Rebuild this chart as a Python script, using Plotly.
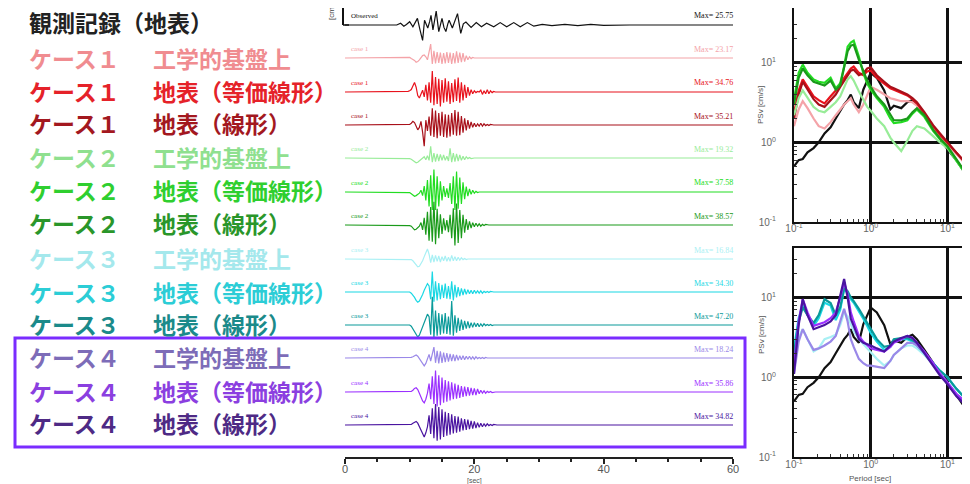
import plotly.graph_objects as go

W, H = 970, 484
PAGE_OFFSET = 8  # default body margin of the written html page

# ---------------- data ----------------
row_case = ["", "ケース１", "ケース１", "ケース１", "ケース２", "ケース２", "ケース２",
            "ケース３", "ケース３", "ケース３", "ケース４", "ケース４", "ケース４"]
row_desc = ["観測記録（地表）", "工学的基盤上", "地表（等価線形）", "地表（線形）",
            "工学的基盤上", "地表（等価線形）", "地表（線形）",
            "工学的基盤上", "地表（等価線形）", "地表（線形）",
            "工学的基盤上", "地表（等価線形）", "地表（線形）"]
trace_tags = ["Observed", "case 1", "case 1", "case 1", "case 2", "case 2", "case 2",
              "case 3", "case 3", "case 3", "case 4", "case 4", "case 4"]
max_text = ["Max= 25.75", "Max= 23.17", "Max= 34.76", "Max= 35.21", "Max= 19.32",
            "Max= 37.58", "Max= 38.57", "Max= 16.84", "Max= 34.30", "Max= 47.20",
            "Max= 18.24", "Max= 35.86", "Max= 34.82"]

# observed acceleration record (cm/s2), irregular sampling
obs_t = [0, 8.0, 8.6, 9.1, 9.5, 10.0, 10.5, 10.9, 11.2, 11.6, 12.0, 12.3, 12.6, 12.8,
         13.1, 13.3, 13.6, 13.9, 14.1, 14.5, 14.8, 15.0, 15.3, 15.6, 15.9, 16.1, 16.6,
         17.0, 17.4, 17.9, 18.3, 18.7, 19.5, 20.3, 21.1, 21.9, 23.0, 24.0, 25.0, 26.1,
         27.1, 28.2, 29.2, 30.5, 32, 34, 36, 38, 40, 44, 48, 52, 56, 60]
obs_v = [0, 0, 3, -2, 1, 5.5, -3, 4, 11, -8, -25.75, 8, -2, -5, 6, 16, -8, 10, 23,
         -11, 3, 11, -4, -11, 2, 8, -5, 6, 19, -14, 2, 5, -4, 4, -3, 3, -3, 4, -3, 4,
         -3, 4, -2, 1, -1, 1, -1, 1, -0.5, 0, 0.5, 0, 0, 0]

# simulated records, sampled every 0.25 s between 9 and 24 s (flat elsewhere)
wave_t = [9.0, 9.25, 9.5, 9.75, 10.0, 10.25, 10.5, 10.75, 11.0, 11.25, 11.5, 11.75,
          12.0, 12.25, 12.5, 12.75, 13.0, 13.25, 13.5, 13.75, 14.0, 14.25, 14.5, 14.75,
          15.0, 15.25, 15.5, 15.75, 16.0, 16.25, 16.5, 16.75, 17.0, 17.25, 17.5, 17.75,
          18.0, 18.25, 18.5, 18.75, 19.0, 19.25, 19.5, 19.75, 20.0, 20.25, 20.5, 20.75,
          21.0, 21.25, 21.5, 21.75, 22.0, 22.25, 22.5, 22.75, 23.0, 23.25, 23.5, 23.75,
          24.0]
c1_base = [0, 0, 0, 0, 1, -1, -2, -4, -7, -6, -3, 1, 4, 5, 2, -3,
           8, 23.17, -10, 12, -9, 10, -8, 9, -10, 8, -9, 10, -8, 9, -10, 8,
           -9, 11, -8, 9, -7, 8, -6, 4, -3, 2, -1, 1, 0, 0, 0, 0,
           0, 0, 0, 0, 0, 0, 0, 0, 0, 0, 0, 0, 0]
c1_eq = [0, 0, 0, 1, 2, 4, 10, 16, 8, -6, -10, -4, 3, -8, 12, -14,
         16, -18, 34.76, -22, 25, -20, 22, -24, 20, -18, 23, -16, 18, -20, 15, -17,
         21, -15, 24, -18, 16, -14, 12, -10, 8, -6, 4, -3, 2, -1, 1, 0,
         3, -4, 2, -3, 4, -3, 2, -1, 1, 0, 0, 0, 0]
c1_lin = [0, 0, 0, 0, 1, 3, 6, 4, -3, -8, -4, 6, -12, -35.21, 8, -10,
          14, -18, 28, -20, 24, -22, 20, -18, 22, -20, 18, -21, 17, -19, 20, -16,
          25, -18, 22, -17, 15, -13, 11, -9, 8, -6, 5, -4, 3, -3, 2, -2,
          3, -2, 2, -1, 1, -1, 1, 0, 0, 0, 0, 0, 0]
c2_base = [0, 0, 0, 0, -1, -2, -4, -6, -8, -7, -5, -3, -1, 2, -3, 4,
           -4, 19.32, -7, 8, -6, 7, -5, 6, -4, 5, -4, 3, -5, 16, -7, 8,
           -6, 7, -5, 5, -4, 3, -3, 2, -1, 1, -1, 0, 0, 0, 0, 0,
           0, 0, 0, 0, 0, 0, 0, 0, 0, 0, 0, 0, 0]
c2_eq = [0, 0, 0, 0, -1, -3, -5, -7, -6, -4, -2, 3, -6, 10, -14, 20,
         -24, 28, -30, 37.58, -30, 26, -24, 18, -14, 10, -8, 6, -10, 15, -20, 26,
         -30, 34, -28, 24, -20, 16, -12, 9, -7, 5, -4, 3, -2, 1, -1, 0,
         0, 0, 0, 0, 0, 0, 0, 0, 0, 0, 0, 0, 0]
c2_lin = [0, 0, 0, 0, -1, -2, -5, -8, -7, -5, -2, 4, -8, 12, -16, 22,
          -26, 30, -28, 38.57, -32, 27, -22, 18, -15, 11, -9, 8, -12, 17, -22, 28,
          -34, 36, -30, 25, -22, 17, -13, 10, -8, 6, -5, 4, -3, 3, -2, 2,
          -2, 1, -1, 1, 0, 0, 0, 0, 0, 0, 0, 0, 0]
c3_base = [0, 0, 0, 0, 0, -1, -3, -6, -10, -13, -12, -8, -3, 4, 10, 16.84,
           8, -6, 7, -5, 6, -4, 5, -5, 4, -3, 5, -4, 3, -4, 6, -3,
           4, -3, 3, -2, 2, -1, 1, -1, 0, 0, 0, 0, 0, 0, 0, 0,
           0, 0, 0, 0, 0, 0, 0, 0, 0, 0, 0, 0, 0]
c3_eq = [0, 0, 0, 0, 0, -2, -5, -9, -14, -17, -15, -10, -4, 3, 8, 14,
         10, -12, 34.30, -16, 18, -14, 15, -12, 12, -10, 14, -11, 10, -12, 18, -14,
         12, -9, 8, -7, 6, -5, 5, -4, 4, -3, 3, -3, 3, -2, 2, -2,
         2, -2, 1, -1, 1, -1, 1, 0, 0, 0, 0, 0, 0]
c3_lin = [0, 0, 0, 0, 0, -2, -6, -10, -16, -20, -17, -10, -4, 6, 12, 18,
          14, -16, 47.20, -22, 24, -18, 20, -16, 18, -14, 20, -15, 14, -16, 40, -18,
          16, -13, 12, -10, 9, -8, 7, -6, 6, -5, 4, -4, 4, -3, 3, -3,
          2, -2, 2, -1, 1, -1, 1, -1, 0, 0, 0, 0, 0]
c4_base = [0, 0, 0, 0, 0, 1, 2, 4, 5, 3, -1, -6, -10, -13, -9, -3,
           6, -5, 10, 18.24, -8, 12, -9, 11, -8, 9, -7, 8, -6, 7, -5, 6,
           -5, 5, -4, 4, -3, 4, -3, 3, -2, 3, -2, 2, -2, 2, -1, 1,
           -1, 1, -1, 1, 0, 0, 0, 0, 0, 0, 0, 0, 0]
c4_eq = [0, 0, 0, 0, 0, 1, 3, 6, 7, 4, -2, -9, -15, -18, -12, -2,
         14, -12, 26, -20, 35.86, -24, 28, -22, 24, -18, 20, -16, 18, -14, 16, -12,
         14, -11, 12, -10, 10, -8, 9, -7, 8, -6, 7, -5, 6, -5, 5, -3,
         3, -2, 2, -2, 1, -1, 1, -1, 0, 0, 0, 0, 0]
c4_lin = [0, 0, 0, 0, 0, 1, 3, 5, 6, 3, -3, -10, -16, -20, -13, -3,
          16, -15, 28, -22, 34.82, -26, 30, -24, 26, -20, 22, -18, 20, -16, 18, -14,
          15, -13, 14, -11, 11, -9, 10, -8, 9, -7, 7, -6, 6, -5, 4, -4,
          3, -3, 2, -2, 2, -1, 1, -1, 1, 0, 0, 0, 0]

# pseudo velocity response spectra PSv (cm/s) vs period (s)
period = [0.1, 0.115, 0.13, 0.15, 0.18, 0.21, 0.25, 0.3, 0.35, 0.4, 0.45, 0.5, 0.55,
          0.6, 0.7, 0.8, 0.9, 1.0, 1.2, 1.5, 1.8, 2.0, 2.5, 3.0, 3.5, 4.0, 5.0, 6.5,
          8.0, 10, 13, 16, 20]
psv_obs = [0.5, 0.6, 0.62, 0.75, 0.85, 1.0, 1.3, 1.55, 2.0, 2.5, 3.0, 3.4, 4.0, 3.2,
           2.7, 4.6, 6.0, 7.5, 6.5, 4.5, 2.6, 2.9, 2.7, 3.2, 3.4, 3.0, 2.2, 1.5, 1.1,
           0.82, 0.6, 0.45, 0.35]
psv_c1_base = [1.6, 2.6, 3.3, 2.7, 2.0, 1.6, 1.5, 1.8, 2.2, 2.6, 3.0, 3.3, 3.6, 3.0,
               2.4, 3.0, 4.0, 5.0, 4.6, 4.0, 3.6, 3.5, 3.3, 3.3, 3.2, 2.9, 2.2, 1.55,
               1.2, 0.95, 0.72, 0.58, 0.46]
psv_c1_eq = [2.3, 4.5, 6.2, 5.0, 3.8, 3.4, 3.1, 3.8, 4.5, 5.5, 6.5, 7.5, 8.5, 9.0,
             7.5, 7.0, 7.8, 8.0, 6.5, 5.5, 4.8, 4.6, 4.2, 3.9, 3.5, 3.1, 2.3, 1.6,
             1.25, 1.0, 0.75, 0.6, 0.48]
psv_c1_lin = [2.0, 4.0, 5.8, 4.6, 3.5, 3.0, 2.8, 3.4, 4.0, 5.0, 6.0, 7.0, 8.0, 8.2,
              7.0, 7.4, 8.5, 8.8, 7.0, 5.8, 5.0, 4.8, 4.3, 4.0, 3.6, 3.2, 2.4, 1.65,
              1.3, 1.0, 0.75, 0.6, 0.48]
psv_c2_base = [2.2, 3.6, 4.5, 3.6, 2.8, 2.5, 2.4, 2.8, 3.2, 3.8, 5.0, 6.2, 6.8, 6.0,
               4.4, 3.4, 2.8, 2.5, 2.0, 1.6, 1.15, 1.0, 0.78, 1.05, 1.4, 1.6, 1.5,
               1.2, 1.0, 0.85, 0.6, 0.45, 0.33]
psv_c2_eq = [3.4, 7.5, 9.5, 7.5, 6.2, 5.8, 5.6, 6.5, 4.8, 5.5, 9.0, 16, 18, 19, 12,
             7.5, 5.5, 4.6, 3.6, 2.8, 2.0, 1.75, 1.8, 1.9, 2.3, 2.6, 2.1, 1.4, 1.1,
             0.88, 0.6, 0.45, 0.33]
psv_c2_lin = [3.0, 6.5, 8.5, 7.0, 5.8, 5.5, 5.2, 6.0, 4.6, 5.2, 8.5, 14, 16.5, 17,
              11, 7.8, 6.0, 5.0, 3.8, 3.0, 2.2, 1.9, 1.9, 2.0, 2.4, 2.7, 2.2, 1.45,
              1.12, 0.9, 0.62, 0.46, 0.34]
psv_c3_base = [1.7, 3.2, 4.0, 3.0, 2.1, 2.3, 3.0, 3.2, 3.4, 4.5, 6.5, 5.8, 4.5, 3.8,
               3.0, 2.6, 2.3, 2.1, 1.7, 1.4, 1.6, 1.9, 2.3, 2.5, 2.5, 2.3, 1.9, 1.45,
               1.2, 1.0, 0.72, 0.58, 0.5]
psv_c3_eq = [2.3, 5.5, 7.9, 6.0, 4.4, 5.5, 8.6, 7.9, 5.2, 7.0, 12.7, 11.5, 9.5, 8.6,
             6.8, 5.4, 4.4, 3.6, 2.8, 2.2, 2.4, 2.9, 3.0, 3.0, 2.8, 2.5, 2.0, 1.5,
             1.2, 1.0, 0.72, 0.58, 0.5]
psv_c3_lin = [2.0, 5.0, 7.5, 6.0, 4.8, 6.0, 9.5, 8.5, 6.0, 7.5, 13, 12, 10, 9.0, 7.2,
              5.8, 4.7, 3.9, 3.0, 2.4, 2.5, 3.0, 3.1, 3.1, 2.9, 2.6, 2.05, 1.5, 1.2,
              1.0, 0.72, 0.58, 0.5]
psv_c4_base = [1.1, 2.8, 4.0, 3.0, 2.2, 2.3, 2.5, 2.8, 3.3, 5.0, 7.2, 5.0, 3.0, 2.4,
               1.7, 1.5, 1.4, 1.4, 1.35, 1.3, 1.6, 1.9, 2.3, 2.7, 2.7, 2.5, 2.0, 1.45,
               1.1, 0.86, 0.62, 0.52, 0.44]
psv_c4_eq = [1.4, 5.0, 9.5, 6.5, 4.4, 4.6, 4.9, 5.5, 6.5, 10, 15.4, 11, 6.5, 5.0, 3.3,
             2.8, 2.5, 2.3, 2.2, 2.1, 2.4, 2.7, 3.0, 3.3, 3.1, 2.7, 2.1, 1.5, 1.1,
             0.86, 0.62, 0.52, 0.44]
psv_c4_lin = [1.1, 4.5, 9.5, 6.0, 4.0, 4.2, 4.5, 5.0, 6.0, 10.5, 17, 10, 5.4, 4.4,
              3.0, 2.7, 2.6, 2.5, 2.3, 2.1, 2.5, 2.8, 3.1, 3.3, 3.1, 2.7, 2.0, 1.4,
              1.05, 0.82, 0.58, 0.48, 0.4]

# ---------------- styling ----------------
trace_colors = ["#111111", "#f4a3a8", "#e8121c", "#a8101a", "#98ec98", "#22dd22",
                "#1a9a1a", "#a8f0f4", "#1ad8e4", "#0a9a9a", "#9a88e8", "#9b30ff",
                "#4a14a0"]
label_colors = ["#222222", "#f08c90", "#e52229", "#a3181f", "#8fe08f", "#2fcf2f",
                "#2a962a", "#a4e8ec", "#2ccdd6", "#1b8a8a", "#7d6cb8", "#8b3fe0",
                "#4e2a85"]
baselines = [25, 58, 92, 125, 158, 192, 225, 259, 292, 325, 358, 392, 425]
label_y = [22, 58, 91, 123, 157, 190, 223, 258, 292, 324, 357, 391, 423]
LABEL_SHIFT = 0


def px(x):
    return (x - PAGE_OFFSET) / W


def py(y):
    return 1 - (y - PAGE_OFFSET) / H


waves = [None, c1_base, c1_eq, c1_lin, c2_base, c2_eq, c2_lin,
         c3_base, c3_eq, c3_lin, c4_base, c4_eq, c4_lin]

fig = go.Figure()
layout = {}
SCALE = 0.6   # px per cm/s2 on the record strips
BAND = 36     # px above / below baseline available to each strip

for i in range(13):
    yname = "y" if i == 0 else f"y{i + 1}"
    lkey = "yaxis" if i == 0 else f"yaxis{i + 1}"
    b = baselines[i]
    top_px = max(PAGE_OFFSET, b - BAND)
    bot_px = b + BAND
    layout[lkey] = dict(domain=[py(bot_px), py(top_px)],
                        range=[-(bot_px - b) / SCALE, (b - top_px) / SCALE],
                        visible=False, anchor="x", fixedrange=True,
                        automargin=False)
    if i == 0:
        xs, ys = obs_t, obs_v
    else:
        xs = [0.0] + wave_t + [60.0]
        ys = [0.0] + waves[i] + [0.0]
    fig.add_trace(go.Scatter(x=xs, y=ys, xaxis="x", yaxis=yname, mode="lines",
                             line=dict(color=trace_colors[i], width=1.2),
                             showlegend=False, hoverinfo="skip"))

layout["xaxis"] = dict(domain=[px(345), px(733)], range=[0, 60], anchor="free",
                       position=py(458), showline=True, linecolor="#222",
                       linewidth=2, showgrid=False, zeroline=False, automargin=False,
                       tickvals=[0, 20, 40, 60], ticks="outside", ticklen=5,
                       tickwidth=1.5, tickcolor="#222", ticklabelstandoff=-4,
                       minor=dict(dtick=5, ticks="outside", ticklen=3,
                                  tickcolor="#222", showgrid=False),
                       tickfont=dict(size=11, color="#555", family="Liberation Sans"))

# spectra
top_series = [(psv_obs, 0), (psv_c1_base, 1), (psv_c1_eq, 2), (psv_c1_lin, 3),
              (psv_c2_base, 4), (psv_c2_eq, 5), (psv_c2_lin, 6)]
bot_series = [(psv_obs, 0), (psv_c3_base, 7), (psv_c3_eq, 8), (psv_c3_lin, 9),
              (psv_c4_base, 10), (psv_c4_eq, 11), (psv_c4_lin, 12)]
for vals, ci in top_series:
    fig.add_trace(go.Scatter(x=period, y=vals, xaxis="x2", yaxis="y14", mode="lines",
                             line=dict(color=trace_colors[ci], width=2.2),
                             showlegend=False, hoverinfo="skip"))
for vals, ci in bot_series:
    fig.add_trace(go.Scatter(x=period, y=vals, xaxis="x3", yaxis="y15", mode="lines",
                             line=dict(color=trace_colors[ci], width=2.2),
                             showlegend=False, hoverinfo="skip"))

minor_vals = [0.2, 0.3, 0.4, 0.5, 0.6, 0.7, 0.8, 0.9, 2, 3, 4, 5, 6, 7, 8, 9, 20, 30]
log_ticktext = ["10<sup>-1</sup>", "10<sup>0</sup>", "10<sup>1</sup>"]
tfont = dict(size=10, color="#666", family="Liberation Sans")


def log_axis(domain, rng, anchor):
    return dict(type="log", domain=domain, range=rng, anchor=anchor,
                showline=True, linecolor="#111", linewidth=2, mirror=True,
                showgrid=True, gridcolor="#111", gridwidth=2.5, zeroline=False,
                automargin=False,
                tickvals=[0.1, 1, 10], ticktext=log_ticktext, ticks="inside",
                ticklen=5, tickcolor="#111", tickfont=tfont,
                minor=dict(tickvals=minor_vals, ticks="inside", ticklen=3,
                           tickcolor="#333", showgrid=False))


layout["xaxis2"] = log_axis([px(794), px(970)], [-1, 1.294], "y14")
layout["yaxis14"] = log_axis([py(222), py(8)], [-1, 1.69], "x2")
layout["xaxis3"] = log_axis([px(794), px(970)], [-1, 1.294], "y15")
layout["yaxis15"] = log_axis([py(457), py(248)], [-1, 1.62], "x3")
layout["yaxis14"]["ticklabelstandoff"] = 14
layout["yaxis15"]["ticklabelstandoff"] = 14
layout["xaxis2"]["ticklabelstandoff"] = -4
layout["xaxis3"]["ticklabelstandoff"] = -3

annotations = []
cjk = "Noto Sans CJK JP"


def left_label(text, x, y, color):
    return dict(text="<b>" + text + "</b>", x=px(x), y=py(y + LABEL_SHIFT),
                xref="paper", yref="paper", xanchor="left", yanchor="middle",
                align="left", showarrow=False, borderpad=0,
                font=dict(size=23, color=color, family=cjk))


for i in range(13):
    if i == 0:
        annotations.append(left_label(row_desc[0], 28, label_y[0], label_colors[0]))
    else:
        annotations.append(left_label(row_case[i], 28, label_y[i], label_colors[i]))
        annotations.append(left_label(row_desc[i], 152, label_y[i], label_colors[i]))
    b = baselines[i]
    annotations.append(dict(text=trace_tags[i], x=px(349), y=py(b - 9),
                            xref="paper", yref="paper", xanchor="left", align="left",
                            yanchor="middle", showarrow=False,
                            font=dict(size=7, color=trace_colors[i],
                                      family="Liberation Serif")))
    annotations.append(dict(text=max_text[i], x=px(735), y=py(b - 9),
                            xref="paper", yref="paper", xanchor="right", align="right",
                            yanchor="middle", showarrow=False,
                            font=dict(size=8, color=trace_colors[i],
                                      family="Liberation Serif")))

annotations.append(dict(text="[cm/s<sup>2</sup>]", x=px(331), y=py(22), xref="paper",
                        yref="paper", xanchor="center", yanchor="bottom",
                        textangle=-90, showarrow=False,
                        font=dict(size=8, color="#444", family="Liberation Sans")))
annotations.append(dict(text="[sec]", x=px(474), y=py(481), xref="paper",
                        yref="paper", xanchor="center", yanchor="middle",
                        showarrow=False,
                        font=dict(size=7, color="#555", family="Liberation Sans")))
for yc in (105, 335):
    annotations.append(dict(text="PSv [cm/s]", x=px(761), y=py(yc), xref="paper",
                            yref="paper", xanchor="center", yanchor="middle",
                            textangle=-90, showarrow=False,
                            font=dict(size=8, color="#555", family="Liberation Sans")))
annotations.append(dict(text="Period [sec]", x=px(870), y=py(478), xref="paper",
                        yref="paper", xanchor="center", yanchor="middle",
                        showarrow=False,
                        font=dict(size=8, color="#555", family="Liberation Sans")))

shapes = [
    dict(type="rect", xref="paper", yref="paper", x0=px(15), x1=px(745),
         y0=py(447), y1=py(338), line=dict(color="#7a2cff", width=3)),
    dict(type="line", xref="paper", yref="paper", x0=px(343), x1=px(343),
         y0=py(0), y1=py(25), line=dict(color="#111", width=2)),
    dict(type="line", xref="paper", yref="paper", x0=px(343), x1=px(349),
         y0=py(25), y1=py(25), line=dict(color="#111", width=1.5)),
]

fig.update_layout(**layout)
fig.update_layout(width=W, height=H, margin=dict(l=0, r=0, t=0, b=0, autoexpand=False),
                  paper_bgcolor="white", plot_bgcolor="rgba(0,0,0,0)",
                  annotations=annotations, shapes=shapes, showlegend=False)

fig.write_html("out.html")
